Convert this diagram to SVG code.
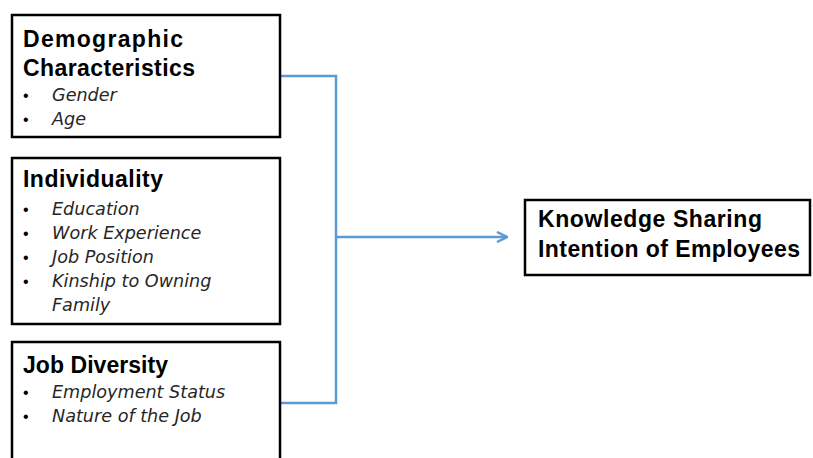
<svg xmlns="http://www.w3.org/2000/svg" width="813" height="458" viewBox="0 0 813 458">
<defs>
<style>
.box{fill:#fff;stroke:#000;stroke-width:2.5}
.t{font-family:"Liberation Sans",Arial,sans-serif;font-weight:bold;font-size:23px;fill:#000}
.i{font-family:"DejaVu Sans","Liberation Sans",sans-serif;font-style:italic;font-size:17.6px;fill:#262626}
.b{font-family:"Liberation Sans",sans-serif;font-size:16px;fill:#000}
.c{fill:none;stroke:#5B9BD5;stroke-width:2.5}
</style>
<marker id="arr" viewBox="0 0 10 10" refX="9" refY="5" markerWidth="5" markerHeight="5" orient="auto" markerUnits="strokeWidth">
<path d="M1,1 L9,5 L1,9" fill="none" stroke="#5B9BD5" stroke-width="2"/>
</marker>
</defs>
<rect width="813" height="458" fill="#fff"/>
<g id="connectors">
<path class="c" d="M280,76 H336 V403 H280"/>
<path class="c" d="M336,237 H507" marker-end="url(#arr)"/>
</g>
<g id="demographic">
<rect class="box" x="12" y="15" width="268" height="122"/>
<text class="t" x="23" y="47" textLength="160">Demographic</text>
<text class="t" x="23" y="76" textLength="172">Characteristics</text>
<text class="b" x="23" y="101">•</text><text class="i" x="52" y="101">Gender</text>
<text class="b" x="23" y="125">•</text><text class="i" x="52" y="125">Age</text>
</g>
<g id="individuality">
<rect class="box" x="12" y="158" width="268" height="166"/>
<text class="t" x="23" y="187" textLength="140">Individuality</text>
<text class="b" x="23" y="215">•</text><text class="i" x="52" y="215">Education</text>
<text class="b" x="23" y="239">•</text><text class="i" x="52" y="239">Work Experience</text>
<text class="b" x="23" y="263">•</text><text class="i" x="52" y="263">Job Position</text>
<text class="b" x="23" y="287">•</text><text class="i" x="52" y="287">Kinship to Owning</text>
<text class="i" x="52" y="311">Family</text>
</g>
<g id="jobdiversity">
<rect class="box" x="12" y="342" width="268" height="130"/>
<text class="t" x="23" y="373" textLength="145">Job Diversity</text>
<text class="b" x="23" y="398">•</text><text class="i" x="52" y="398">Employment Status</text>
<text class="b" x="23" y="422">•</text><text class="i" x="52" y="422">Nature of the Job</text>
</g>
<g id="knowledge">
<rect class="box" x="525" y="200" width="285" height="75"/>
<text class="t" x="538" y="227" textLength="224">Knowledge Sharing</text>
<text class="t" x="538" y="257" textLength="262">Intention of Employees</text>
</g>
</svg>
